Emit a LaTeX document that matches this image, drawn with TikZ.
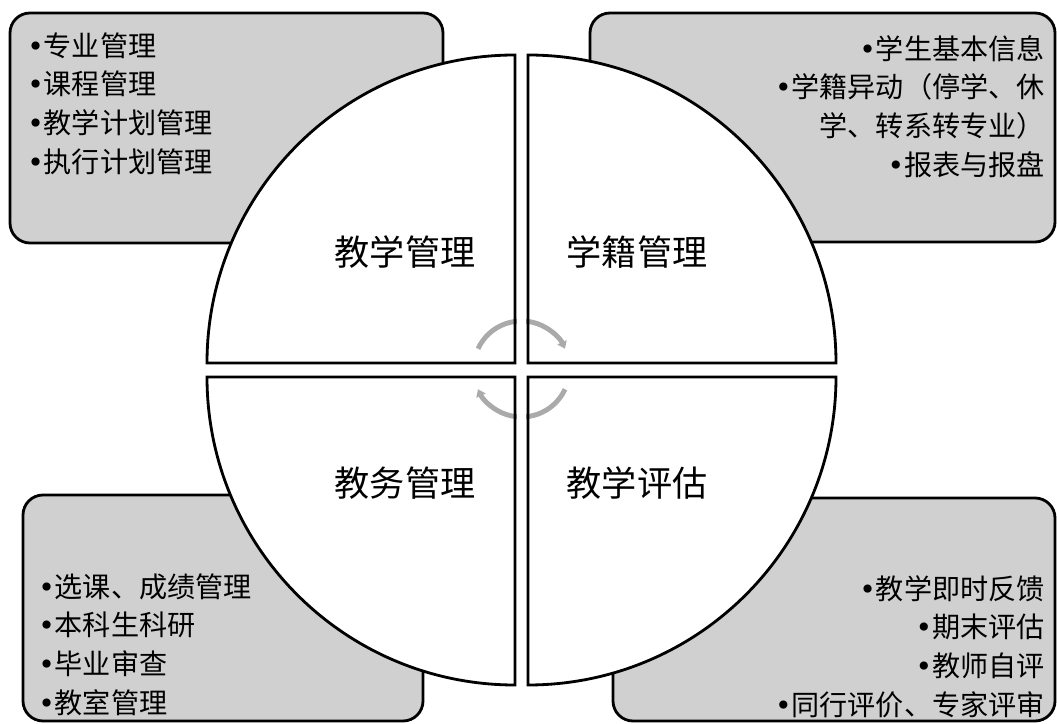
\documentclass[tikz,border=0pt]{standalone}
\usepackage{fontspec}
\setmainfont{Noto Sans CJK SC}
\newfontfamily\dotfont{DejaVu Sans}
\newcommand\bul{{\dotfont •}}
\usetikzlibrary{arrows.meta}
\definecolor{boxgray}{RGB}{208,208,208}
\definecolor{cycgray}{RGB}{170,170,170}

\begin{document}
\begin{tikzpicture}[x=0.025cm, y=0.025cm, line join=miter,
    box/.style={fill=boxgray, draw=black, line width=2pt, rounded corners=0.5cm},
    quad/.style={draw=black, line width=2pt},
    title/.style={font=\fontsize{25}{30}\selectfont, inner sep=0pt},
    items/.style={font=\fontsize{20}{27.6}\selectfont, inner sep=0pt},
    cyc/.style={draw=cycgray, line width=3.5pt, -{Triangle[length=5pt,width=7pt]}}]
	\useasboundingbox (0,0) rectangle (1057,723);
	% corner boxes
	\draw[box] (10,480) rectangle (443,710);
	\draw[box] (590,481) rectangle (1055,710);
	\draw[box] (23,2) rectangle (423,228);
	\draw[box] (613,2) rectangle (1055,225);
	% quarter discs
	\foreach \cx/\cy/\a in {515/360/90, 528/360/0, 515/346/180, 528/346/270}
		\fill[white] (\cx,\cy) -- ++(\a:308) arc (\a:\a+90:308) -- cycle;
	\draw[cyc] (521.5,354) ++(155:48) arc (155:25:48);
	\draw[cyc] (521.5,354) ++(-25:48) arc (-25:-155:48);
	\fill[white] (517,300) rectangle (526,410);
	\foreach \cx/\cy/\a in {515/360/90, 528/360/0, 515/346/180, 528/346/270}
		\draw[quad] (\cx,\cy) -- ++(\a:308) arc (\a:\a+90:308) -- cycle;
	% labels
	\node[title] (jxgl) at (405,471) {教学管理};
	\node[title] (xjgl) at (637,471) {学籍管理};
	\node[title] (jwgl) at (405,240) {教务管理};
	\node[title] (jxpg) at (637,240) {教学评估};
	\node[items, align=left, anchor=north west] (jxgl-list) at (27,691) {\bul{}专业管理\\\bul{}课程管理\\\bul{}教学计划管理\\\bul{}执行计划管理};
	\node[items, align=right, anchor=north east] (xjgl-list) at (1045,688) {\bul{}学生基本信息\\\bul{}学籍异动（停学、休\\学、转系转专业）\\\bul{}报表与报盘};
	\node[items, align=left, anchor=north west] (jwgl-list) at (38,150) {\bul{}选课、成绩管理\\\bul{}本科生科研\\\bul{}毕业审查\\\bul{}教室管理};
	\node[items, align=right, anchor=north east] (jxpg-list) at (1045,148) {\bul{}教学即时反馈\\\bul{}期末评估\\\bul{}教师自评\\\bul{}同行评价、专家评审};
\end{tikzpicture}
\end{document}
